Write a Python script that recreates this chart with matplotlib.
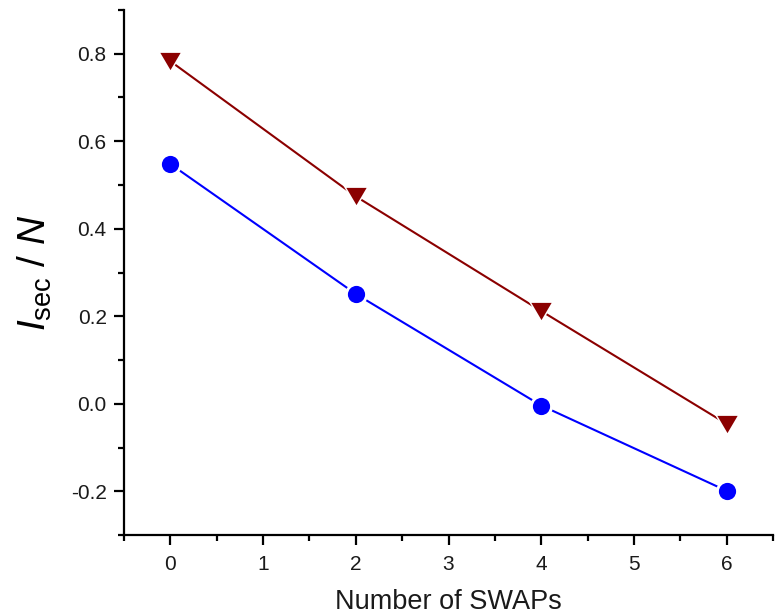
import matplotlib
matplotlib.use("Agg")
import matplotlib.pyplot as plt
from matplotlib.ticker import MultipleLocator

# Data
swaps = [0, 2, 4, 6]
series_triangle = [0.783, 0.474, 0.212, -0.046]
series_circle = [0.548, 0.251, -0.004, -0.199]

x_ticks = [0, 1, 2, 3, 4, 5, 6]
y_ticks = [-0.2, 0.0, 0.2, 0.4, 0.6, 0.8]
y_tick_labels = ['-0.2', '0.0', '0.2', '0.4', '0.6', '0.8']

plt.rcParams['font.family'] = ['Liberation Sans', 'DejaVu Sans']
plt.rcParams['mathtext.fontset'] = 'custom'
plt.rcParams['mathtext.rm'] = 'Liberation Sans'
plt.rcParams['mathtext.it'] = 'Liberation Sans:italic'

fig = plt.figure(figsize=(7.77, 6.15), dpi=100)
ax = fig.add_axes([124 / 777, 80 / 615, (773 - 124) / 777, (535 - 10) / 615])

red = '#8b0000'
blue = '#0000ff'

# slightly flattened down-pointing triangle
tri = [(-1.0, 0.85), (1.0, 0.85), (0.0, -0.85), (-1.0, 0.85)]

# connecting lines
ax.plot(swaps, series_triangle, color=red, lw=1.5, zorder=2)
ax.plot(swaps, series_circle, color=blue, lw=1.5, zorder=2)

# white halos leave a small gap between line and marker
ax.plot(swaps, series_triangle, ls='none', marker=tri, ms=19.5, mfc='white', mec='none', zorder=3)
ax.plot(swaps, series_circle, ls='none', marker='o', ms=16.5, mfc='white', mec='none', zorder=3)

# markers
ax.plot(swaps, series_triangle, ls='none', marker=tri, ms=14.6, mfc=red, mec='none', zorder=4)
ax.plot(swaps, series_circle, ls='none', marker='o', ms=12.4, mfc=blue, mec='none', zorder=4)

ax.set_xlim(-0.5, 6.5)
ax.set_ylim(-0.3, 0.9)
ax.set_xticks(x_ticks)
ax.set_yticks(y_ticks)
ax.set_yticklabels(y_tick_labels)
ax.xaxis.set_minor_locator(MultipleLocator(0.5))
ax.yaxis.set_minor_locator(MultipleLocator(0.1))

for side in ('top', 'right'):
    ax.spines[side].set_visible(False)
for side in ('left', 'bottom'):
    ax.spines[side].set_linewidth(1.6)

ax.tick_params(which='major', direction='out', length=7.5, width=1.6, labelsize=15,
               labelcolor='#1a1a1a')
ax.tick_params(which='minor', direction='out', length=4, width=1.6)
ax.tick_params(axis='y', which='major', pad=5)
ax.tick_params(axis='x', which='major', pad=7)

ax.set_xlabel('Number of SWAPs', fontsize=19.5, labelpad=11, color='#1a1a1a')
ax.set_ylabel(r'$\mathit{I}_{\mathrm{sec}}$ / $\mathit{N}$', fontsize=28, labelpad=12)

fig.savefig('out.png', dpi=100)
